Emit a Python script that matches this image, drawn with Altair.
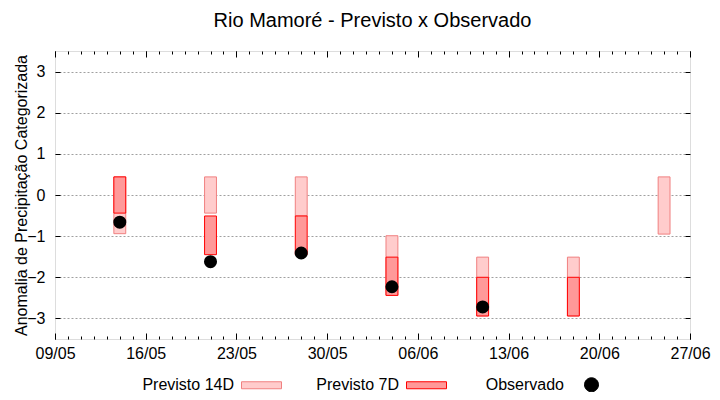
import altair as alt
import pandas as pd

# ---- data ----
dates = ["2023-05-14", "2023-05-21", "2023-05-28", "2023-06-04",
         "2023-06-11", "2023-06-18", "2023-06-25"]
p14_top = [0.44, 0.44, 0.44, -0.99, -1.51, -1.51, 0.44]
p14_bot = [-0.94, -0.44, -0.51, -2.44, -2.94, -2.94, -0.95]
p7_top = [0.44, -0.51, -0.51, -1.51, -2.0, -2.0, None]
p7_bot = [-0.44, -1.45, -1.45, -2.44, -2.94, -2.94, None]
observed = [-0.66, -1.62, -1.41, -2.23, -2.72, None, None]

series = ["Previsto 14D", "Previsto 7D", "Observado"]
week_ticks = ["2023-05-09", "2023-05-16", "2023-05-23", "2023-05-30",
              "2023-06-06", "2023-06-13", "2023-06-20", "2023-06-27"]
y_ticks = [-3, -2, -1, 0, 1, 2, 3]

# ---- derived tables ----
d = pd.to_datetime(dates)
half = pd.Timedelta(hours=11)
fmt = "%Y-%m-%dT%H:%M:%S"
df = pd.DataFrame({
    "date": d.strftime(fmt),
    "start": (d - half).strftime(fmt),
    "end": (d + half).strftime(fmt),
    "p14_top": p14_top, "p14_bot": p14_bot,
    "p7_top": p7_top, "p7_bot": p7_bot,
    "obs": observed,
    "series": "Observado",
})

def dt(s):
    t = pd.Timestamp(s)
    return alt.DateTime(year=t.year, month=t.month, date=t.day)

week_vals = [dt(s) for s in week_ticks]
day_vals = [dt(s) for s in pd.date_range(week_ticks[0], week_ticks[-1]).strftime("%Y-%m-%d")]

W, H = 635, 288
FONT = "Liberation Sans"

xscale = alt.Scale(domain=[dt(week_ticks[0]), dt(week_ticks[-1])])
yscale = alt.Scale(domain=[-3.5, 3.5], nice=False, zero=False)

ax_bottom_major = alt.Axis(orient="bottom", values=week_vals, format="%d/%m", title=None,
                           offset=-6, tickSize=6, domain=False, grid=False,
                           labelFlush=False, labelOverlap=False,
                           labelPadding=6, labelFontSize=16, labelFont=FONT,
                           labelColor="black", tickColor="black")
ax_top_major = alt.Axis(orient="top", values=week_vals, labels=False, title=None,
                        offset=-6, tickSize=6, domain=False, grid=False, tickColor="black")
ax_bottom_minor = alt.Axis(orient="bottom", values=day_vals, labels=False, title=None,
                           offset=-3, tickSize=3, domain=False, grid=False, tickColor="black")
ax_top_minor = alt.Axis(orient="top", values=day_vals, labels=False, title=None,
                        offset=-3, tickSize=3, domain=False, grid=False, tickColor="black")

ax_left = alt.Axis(orient="left", values=y_ticks, title="Anomalia de Precipitação Categorizada",
                   offset=-5, tickSize=5, domain=False, grid=True,
                   gridColor="#a0a0a0", gridDash=[2, 2], gridWidth=1,
                   labelPadding=10, labelFontSize=16, labelFont=FONT, labelColor="black",
                   labelFlush=False,
                   titleFontSize=16, titleFont=FONT, titleFontWeight="normal",
                   titleColor="black", titleX=-31, titleBaseline="bottom",
                   tickColor="black")
ax_right = alt.Axis(orient="right", values=y_ticks, labels=False, title=None,
                    offset=-5, tickSize=5, domain=False, grid=False, tickColor="black")

base = alt.Chart(df)

r14 = base.mark_rect(fill="#ffcccc", stroke="#f08080", strokeWidth=1).encode(
    x=alt.X("start:T", scale=xscale, axis=ax_bottom_major),
    x2="end:T",
    y=alt.Y("p14_top:Q", scale=yscale, axis=ax_left),
    y2="p14_bot:Q",
)

r7 = base.mark_rect(fill="#ff9999", stroke="#ff0000", strokeWidth=1).encode(
    x=alt.X("start:T", scale=xscale, axis=ax_top_major),
    x2="end:T",
    y=alt.Y("p7_top:Q", scale=yscale, axis=ax_right),
    y2="p7_bot:Q",
)

pts = base.mark_circle(color="black", opacity=1, size=170).encode(
    x=alt.X("date:T", scale=xscale, axis=ax_bottom_minor),
    y=alt.Y("obs:Q", scale=yscale, axis=None),
)

rect_path = "M-1,-0.175H1V0.175H-1Z"
dot_path = "M-0.35,0A0.35,0.35 0 1,0 0.35,0A0.35,0.35 0 1,0 -0.35,0Z"
legend = alt.Legend(orient="none", legendX=186, legendY=313, direction="horizontal",
                    title=None, symbolSize=1600, symbolStrokeWidth=1,
                    labelAlign="right", labelOffset={"expr": "-48"}, labelFontSize=16,
                    labelFont=FONT, labelColor="black", labelLimit=200,
                    gridAlign="all", columnPadding=32, symbolOpacity=1)

leg = base.transform_filter("false").mark_point(filled=True, opacity=1).encode(
    x=alt.X("date:T", scale=xscale, axis=ax_top_minor),
    y=alt.Y("obs:Q", scale=yscale, axis=None),
    fill=alt.Fill("series:N", scale=alt.Scale(domain=series, range=["#ffcccc", "#ff9999", "black"]),
                  legend=legend),
    stroke=alt.Stroke("series:N", scale=alt.Scale(domain=series, range=["#f08080", "#ff0000", "black"]),
                      legend=legend),
    shape=alt.Shape("series:N", scale=alt.Scale(domain=series, range=[rect_path, rect_path, dot_path]),
                    legend=legend),
)

chart = alt.layer(r14, r7, pts, leg).resolve_axis(
    x="independent", y="independent"
).properties(
    width=W, height=H,
    title=alt.TitleParams("Rio Mamoré - Previsto x Observado", fontSize=20, font=FONT,
                          fontWeight="normal", color="black", offset=20, anchor="middle"),
    autosize=alt.AutoSizeParams(type="none"),
    padding={"left": 47, "top": 43, "right": 22, "bottom": 53},
).configure_view(stroke="black", strokeWidth=1).configure(background="white")

chart.save("out.html", embed_options={"renderer": "svg", "actions": False})
